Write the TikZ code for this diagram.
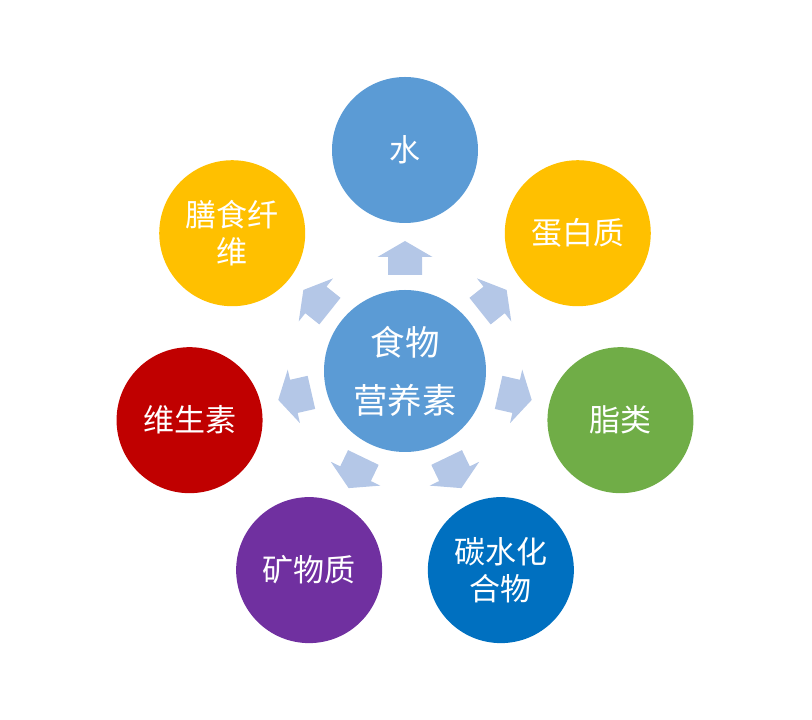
\documentclass[tikz,border=0pt]{standalone}
\usepackage{fontspec}
\setmainfont{Noto Sans CJK SC}
\usetikzlibrary{calc}
\definecolor{cblue}{HTML}{5B9BD5}
\definecolor{cgold}{HTML}{FFC000}
\definecolor{cgreen}{HTML}{70AD47}
\definecolor{cdblue}{HTML}{0070C0}
\definecolor{cpurple}{HTML}{7030A0}
\definecolor{cred}{HTML}{C00000}
\definecolor{carrow}{HTML}{B4C7E7}
\tikzset{
  outer/.style={circle, minimum size=146pt, inner sep=0pt, text=white, align=center,
    font=\fontsize{31}{37}\selectfont},
  hub/.style={circle, minimum size=162pt, inner sep=0pt, text=white, align=center, fill=cblue,
    font=\fontsize{34.5}{58}\selectfont},
  blockarrow/.style={fill=carrow}
}
\begin{document}
\begin{tikzpicture}[x=1pt,y=1pt]
\useasboundingbox (0,0) rectangle (812,720);
\coordinate (c) at (405,349);
\node[hub] (hub) at (c) {食物\\营养素};
\node[outer, fill=cblue]   (water)   at ($(c)+(90:221)$) {水};
\node[outer, fill=cgold]   (protein) at ($(c)+(38.57:221)$) {蛋白质};
\node[outer, fill=cgreen]  (fat)     at ($(c)+(-12.86:221)$) {脂类};
\node[outer, fill=cdblue]  (carb)    at ($(c)+(-64.29:221)$) {碳水化\\合物};
\node[outer, fill=cpurple] (mineral) at ($(c)+(-115.71:221)$) {矿物质};
\node[outer, fill=cred]    (vitamin) at ($(c)+(-167.14:221)$) {维生素};
\node[outer, fill=cgold]   (fiber)   at ($(c)+(141.43:221)$) {膳食纤\\维};
\foreach \a in {90,38.57,-12.86,-64.29,-115.71,-167.14,141.43}{
  \begin{scope}[shift={(c)}, rotate=\a]
    \fill[blockarrow] (96,-17) -- (114,-17) -- (114,-27.5) -- (130,0)
      -- (114,27.5) -- (114,17) -- (96,17) -- cycle;
  \end{scope}
}
\end{tikzpicture}
\end{document}
